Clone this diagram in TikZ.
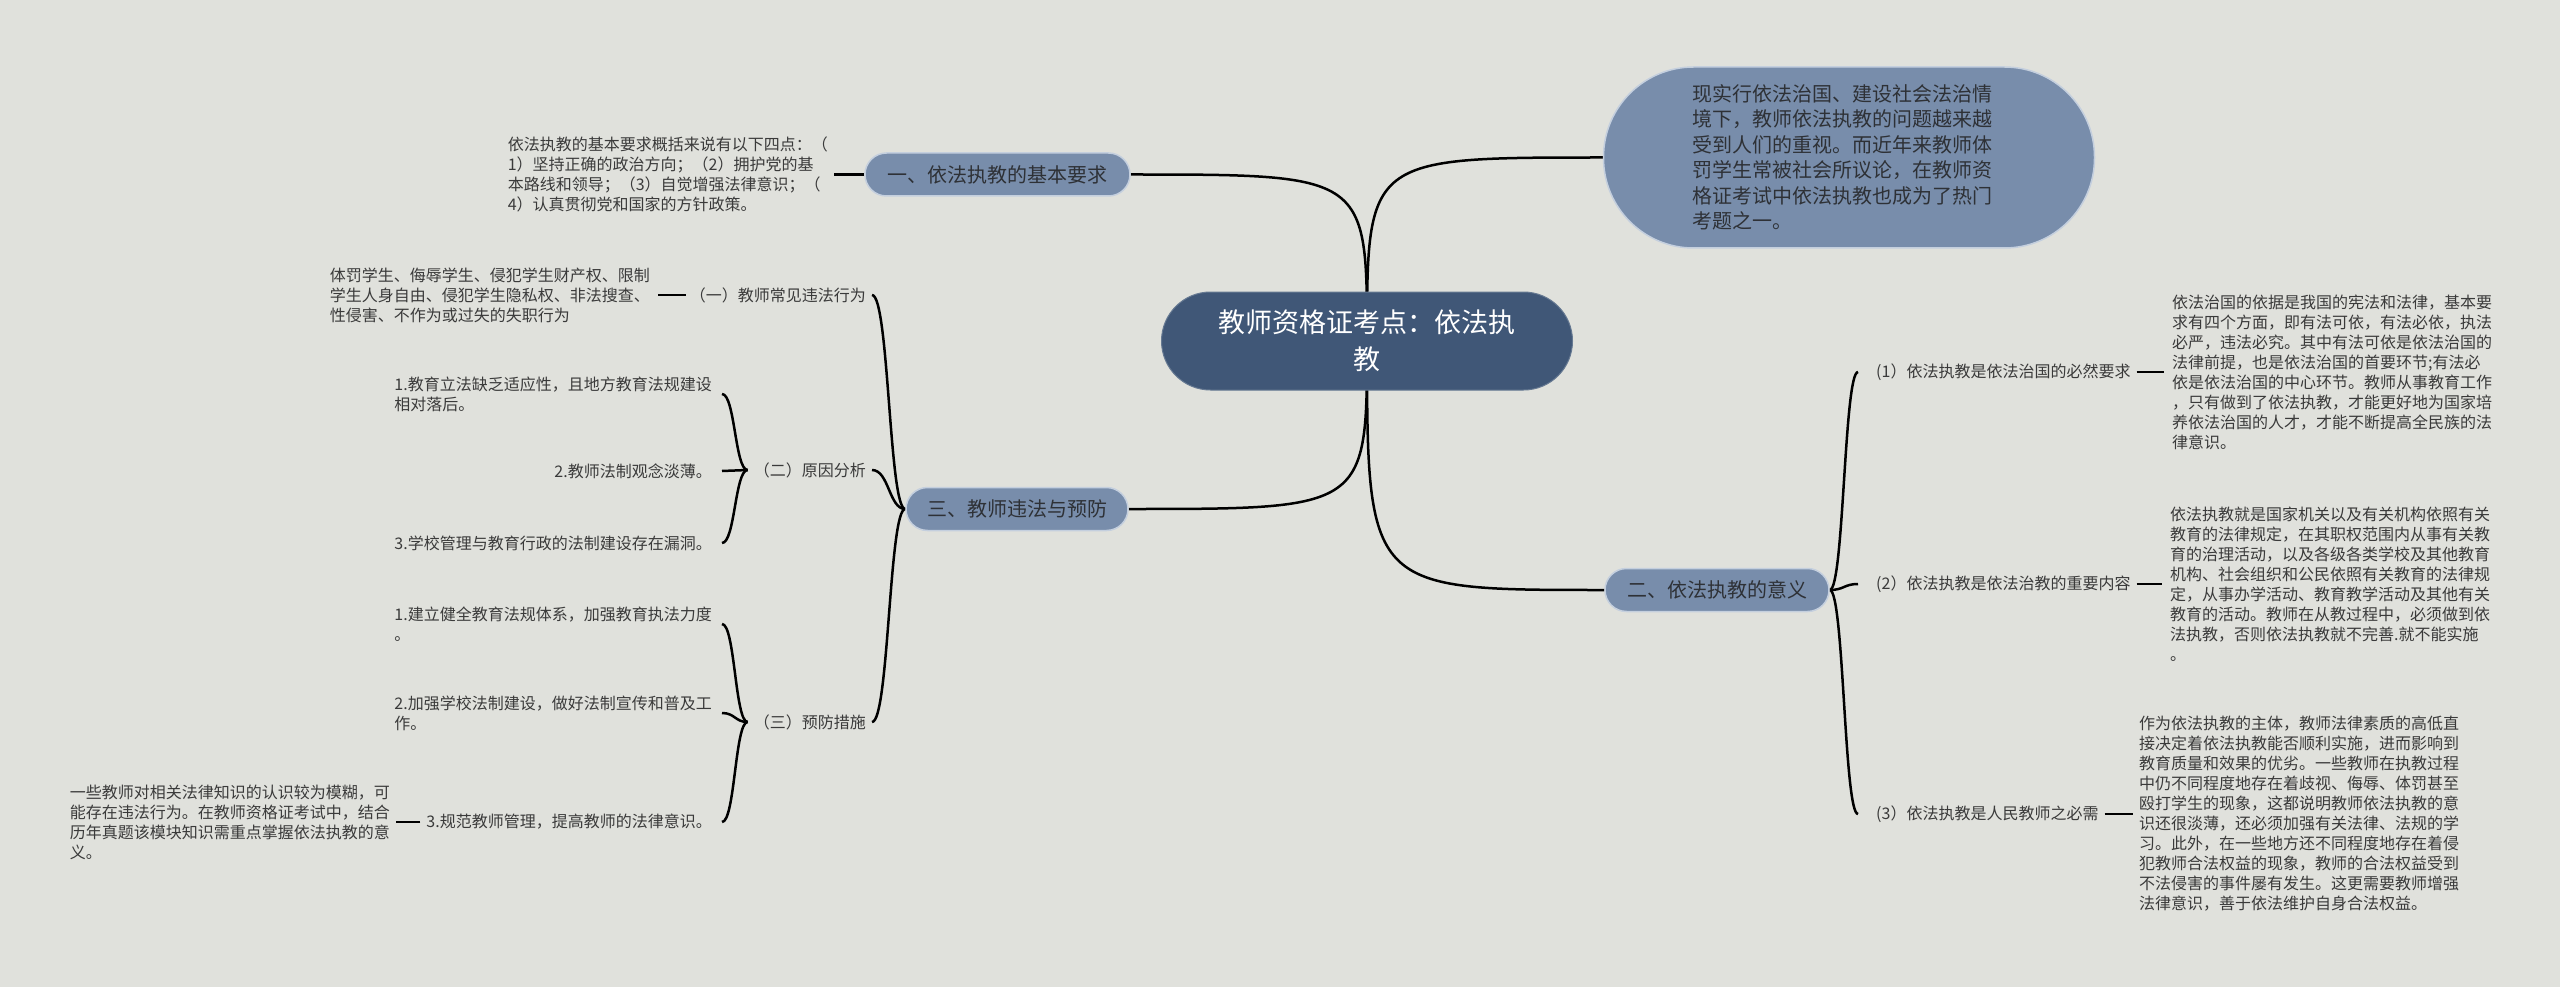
\documentclass[tikz,border=0pt]{standalone}
\usepackage{fontspec}
\newfontfamily\cjk{Noto Sans CJK SC}
\usetikzlibrary{calc}
\definecolor{bgc}{RGB}{224,225,220}
\definecolor{cfill}{RGB}{64,87,119}
\definecolor{bfill}{RGB}{120,141,171}
\definecolor{bedge}{RGB}{196,207,222}
\definecolor{txt}{RGB}{46,49,54}
\definecolor{stxt}{RGB}{58,58,58}
\pgfdeclarelayer{back}
\pgfdeclarelayer{links}
\pgfsetlayers{back,links,main}
\begin{document}
\begin{tikzpicture}[x=1pt,y=-1pt,
  root/.style={fill=cfill, draw=cfill!80!white, line width=1pt, text=white,
    font=\cjk\fontsize{27}{37}\selectfont, align=center,
    minimum width=411pt, minimum height=98pt, rounded corners=49pt, inner sep=0pt},
  branch/.style={fill=bfill, draw=bedge, line width=1.5pt, text=txt,
    font=\cjk\fontsize{20}{25.5}\selectfont, minimum height=43pt,
    rounded corners=21.5pt, inner sep=0pt},
  lbl/.style={font=\cjk\fontsize{16}{20}\selectfont, text=stxt, inner sep=0pt},
  blk/.style={lbl, align=left},
  link/.style={line width=2.5pt, black}]
\begin{pgfonlayer}{back}
\fill[bgc] (0,0) rectangle (2560,987);
\end{pgfonlayer}
\useasboundingbox (0,0) rectangle (2560,987);

% main nodes
\node[root] (c) at (1367,341) {教师资格证考点：依法执\\教};
\node[branch, minimum width=491pt, minimum height=181pt, rounded corners=90pt] (bub) at (1849,157.5) {};
\node[branch, draw=none, fill=none, minimum height=0pt, align=left, anchor=west] (bubt) at (1692,157.5)
 {现实行依法治国、建设社会法治情\\境下，教师依法执教的问题越来越\\受到人们的重视。而近年来教师体\\罚学生常被社会所议论，在教师资\\格证考试中依法执教也成为了热门\\考题之一。};
\node[branch, minimum width=265pt] (n1) at (997.5,174.5) {一、依法执教的基本要求};
\node[branch, minimum width=222pt] (n3) at (1017,509) {三、教师违法与预防};
\node[branch, minimum width=224pt] (n2) at (1717,590) {二、依法执教的意义};

% branch one
\node[blk, anchor=east] (t1) at (828,174.5) {依法执教的基本要求概括来说有以下四点：（\\1）坚持正确的政治方向；（2）拥护党的基\\本路线和领导；（3）自觉增强法律意识；（\\4）认真贯彻党和国家的方针政策。};

% branch three
\node[lbl, anchor=east] (a1) at (866,295) {（一）教师常见违法行为};
\node[lbl, anchor=east] (a2) at (866,470) {（二）原因分析};
\node[lbl, anchor=east] (a3) at (866,722) {（三）预防措施};
\node[blk, anchor=east] (a1t) at (650,295) {体罚学生、侮辱学生、侵犯学生财产权、限制\\学生人身自由、侵犯学生隐私权、非法搜查、\\性侵害、不作为或过失的失职行为};
\node[blk, anchor=east] (r1) at (712,394) {1.教育立法缺乏适应性，且地方教育法规建设\\相对落后。};
\node[lbl, anchor=east] (r2) at (712,471) {2.教师法制观念淡薄。};
\node[lbl, anchor=east] (r3) at (712,543) {3.学校管理与教育行政的法制建设存在漏洞。};
\node[blk, anchor=east] (p1) at (712,624) {1.建立健全教育法规体系，加强教育执法力度\\。};
\node[blk, anchor=east] (p2) at (712,713) {2.加强学校法制建设，做好法制宣传和普及工\\作。};
\node[lbl, anchor=east] (p3) at (712,822) {3.规范教师管理，提高教师的法律意识。};
\node[blk, anchor=east] (q) at (390,822) {一些教师对相关法律知识的认识较为模糊，可\\能存在违法行为。在教师资格证考试中，结合\\历年真题该模块知识需重点掌握依法执教的意\\义。};

% branch two
\node[lbl, anchor=west] (b1) at (1876,372) {(1）依法执教是依法治国的必然要求};
\node[lbl, anchor=west] (b2) at (1876,584) {(2）依法执教是依法治教的重要内容};
\node[lbl, anchor=west] (b3) at (1876,814) {(3）依法执教是人民教师之必需};
\node[blk, anchor=west] (b1t) at (2172,372) {依法治国的依据是我国的宪法和法律，基本要\\求有四个方面，即有法可依，有法必依，执法\\必严，违法必究。其中有法可依是依法治国的\\法律前提，也是依法治国的首要环节;有法必\\依是依法治国的中心环节。教师从事教育工作\\，只有做到了依法执教，才能更好地为国家培\\养依法治国的人才，才能不断提高全民族的法\\律意识。};
\node[blk, anchor=west] (b2t) at (2170,584) {依法执教就是国家机关以及有关机构依照有关\\教育的法律规定，在其职权范围内从事有关教\\育的治理活动，以及各级各类学校及其他教育\\机构、社会组织和公民依照有关教育的法律规\\定，从事办学活动、教育教学活动及其他有关\\教育的活动。教师在从教过程中，必须做到依\\法执教，否则依法执教就不完善.就不能实施\\。};
\node[blk, anchor=west] (b3t) at (2139,814) {作为依法执教的主体，教师法律素质的高低直\\接决定着依法执教能否顺利实施，进而影响到\\教育质量和效果的优劣。一些教师在执教过程\\中仍不同程度地存在着歧视、侮辱、体罚甚至\\殴打学生的现象，这都说明教师依法执教的意\\识还很淡薄，还必须加强有关法律、法规的学\\习。此外，在一些地方还不同程度地存在着侵\\犯教师合法权益的现象，教师的合法权益受到\\不法侵害的事件屡有发生。这更需要教师增强\\法律意识，善于依法维护自身合法权益。};

\coordinate (v3) at (889,0);
\coordinate (v2) at (735,0);
\coordinate (vr) at (1844,0);

\begin{pgfonlayer}{links}
% from centre
\draw[link] (c.center) .. controls (c.center |- bub.west) .. (bub.west);
\draw[link] (c.center) .. controls (c.center |- n1.east) .. (n1.east);
\draw[link] (c.center) .. controls (c.center |- n3.east) .. (n3.east);
\draw[link] (c.center) .. controls (c.center |- n2.west) .. (n2.west);
% branch one
\draw[link] (n1.west) -- ([xshift=6pt]t1.east);
% branch three
\foreach \k in {a1,a2,a3}
  \draw[link] (n3.west) .. controls (v3 |- n3.west) and (v3 |- \k.east) .. ([xshift=6pt]\k.east);
\draw[link] ([xshift=-4pt]a1.west) -- ([xshift=8pt]a1t.east);
\foreach \k in {r1,r2,r3}
  \draw[link] ([xshift=-6pt]a2.west) .. controls (v2 |- a2.west) and (v2 |- \k.east) .. ([xshift=10pt]\k.east);
\foreach \k in {p1,p2,p3}
  \draw[link] ([xshift=-6pt]a3.west) .. controls (v2 |- a3.west) and (v2 |- \k.east) .. ([xshift=10pt]\k.east);
\draw[link] ([xshift=-6pt]p3.west) -- ([xshift=6pt]q.east);
% branch two
\foreach \k in {b1,b2,b3}
  \draw[link] (n2.east) .. controls (vr |- n2.east) and (vr |- \k.west) .. ([xshift=-18pt]\k.west);
\draw[link] ([xshift=6pt]b1.east) -- ([xshift=-8pt]b1t.west);
\draw[link] ([xshift=6pt]b2.east) -- ([xshift=-8pt]b2t.west);
\draw[link] ([xshift=6pt]b3.east) -- ([xshift=-6pt]b3t.west);
\end{pgfonlayer}
\end{tikzpicture}
\end{document}
